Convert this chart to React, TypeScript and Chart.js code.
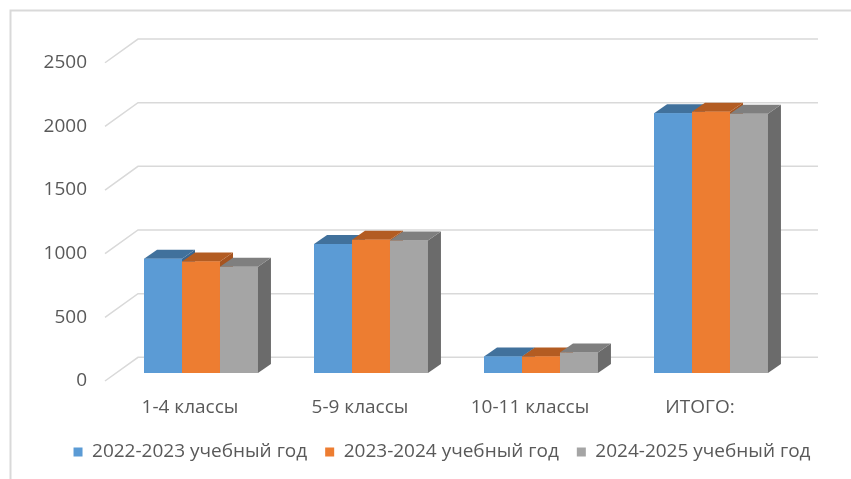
import React, { useEffect, useRef } from 'react';
import { Chart, registerables } from 'chart.js';

Chart.register(...registerables);

const categories = ['1-4 классы', '5-9 классы', '10-11 классы', 'ИТОГО:'];
const seriesNames = ['2022-2023 учебный год', '2023-2024 учебный год', '2024-2025 учебный год'];
const values2022 = [897, 1013, 130, 2040];
const values2023 = [876, 1047, 130, 2053];
const values2024 = [835, 1040, 162, 2037];
const yMin = 0;
const yMax = 2500;
const yStep = 500;

const frontColors = ['#5B9BD5', '#ED7D31', '#A5A5A5'];
const topColors = ['#41719C', '#B35C22', '#7F7F7F'];
const sideColors = ['#3A6690', '#A65420', '#6B6B6B'];

const DEPTH_DX = 13;
const DEPTH_DY = -9;
const FRONT_DX = -11;
const FRONT_DY = 8;
const BACK_DX = 22;
const BACK_DY = -15.7;
const TEXT = '#595959';
const FONT = 'Open Sans';

const threeD = {
  id: 'threeD',
  beforeDraw(chart: any) {
    const ctx = chart.ctx;
    ctx.save();
    ctx.strokeStyle = '#d9d9d9';
    ctx.lineWidth = 2;
    ctx.beginPath();
    ctx.moveTo(10.5, chart.height);
    ctx.lineTo(10.5, 10.5);
    ctx.lineTo(chart.width, 10.5);
    ctx.stroke();
    ctx.restore();
  },
  beforeDatasetsDraw(chart: any) {
    const { ctx, chartArea, scales } = chart;
    const y = scales.y;
    ctx.save();
    ctx.strokeStyle = '#d9d9d9';
    ctx.lineWidth = 1.5;
    y.ticks.forEach((t: any) => {
      const py = y.getPixelForValue(t.value);
      ctx.beginPath();
      ctx.moveTo(chartArea.left + FRONT_DX, py + FRONT_DY);
      ctx.lineTo(chartArea.left + BACK_DX, py + BACK_DY);
      ctx.lineTo(chartArea.right + BACK_DX, py + BACK_DY);
      ctx.stroke();
    });
    ctx.restore();
  },
  afterDatasetsDraw(chart: any) {
    const ctx = chart.ctx;
    ctx.save();
    chart.data.datasets.forEach((_ds: any, di: number) => {
      const meta = chart.getDatasetMeta(di);
      meta.data.forEach((bar: any) => {
        const { x, y, base, width } = bar.getProps(['x', 'y', 'base', 'width'], true);
        const l = x - width / 2;
        const r = x + width / 2;
        ctx.fillStyle = sideColors[di];
        ctx.beginPath();
        ctx.moveTo(r, base);
        ctx.lineTo(r + DEPTH_DX, base + DEPTH_DY);
        ctx.lineTo(r + DEPTH_DX, y + DEPTH_DY);
        ctx.lineTo(r, y);
        ctx.closePath();
        ctx.fill();
        ctx.fillStyle = topColors[di];
        ctx.beginPath();
        ctx.moveTo(l, y);
        ctx.lineTo(l + DEPTH_DX, y + DEPTH_DY);
        ctx.lineTo(r + DEPTH_DX, y + DEPTH_DY);
        ctx.lineTo(r, y);
        ctx.closePath();
        ctx.fill();
        bar.draw(ctx, chart.chartArea);
      });
    });
    ctx.restore();
  },
};

export default function App() {
  const ref = useRef<HTMLCanvasElement | null>(null);
  useEffect(() => {
    if (!ref.current) return;
    const series = [values2022, values2023, values2024];
    const chart = new Chart(ref.current, {
      type: 'bar',
      data: {
        labels: categories,
        datasets: series.map((vals, i) => ({
          label: seriesNames[i],
          data: vals,
          backgroundColor: frontColors[i],
          borderWidth: 0,
          barPercentage: 1,
          categoryPercentage: 0.67,
        })),
      },
      options: {
        animation: false,
        responsive: true,
        maintainAspectRatio: false,
        layout: { padding: { left: 43, right: 10, top: 54.75, bottom: 7.5 } },
        plugins: {
          tooltip: { enabled: false },
          legend: {
            position: 'bottom',
            labels: {
              boxWidth: 9,
              boxHeight: 9,
              padding: 18,
              color: TEXT,
              font: { family: FONT, size: 19 },
            },
          },
        },
        scales: {
          x: {
            grid: { display: false, drawTicks: false },
            border: { display: false },
            ticks: { padding: 23, labelOffset: -11, color: TEXT, font: { family: FONT, size: 19 } },
            afterFit(s: any) { s.height = 51.5; },
          },
          y: {
            min: yMin,
            max: yMax,
            grid: { display: false, drawTicks: false },
            border: { display: false },
            ticks: {
              stepSize: yStep,
              padding: 29,
              labelOffset: 8,
              color: TEXT,
              font: { family: FONT, size: 19 },
              callback: (v: any) => String(v),
            },
            afterFit(s: any) { s.width = 73; },
          },
          y2: {
            position: 'right',
            display: true,
            grid: { display: false, drawTicks: false },
            border: { display: false },
            ticks: { display: false },
            afterFit(s: any) { s.width = 45; },
          },
        },
      } as any,
      plugins: [threeD],
    });
    return () => chart.destroy();
  }, []);
  return (
    <div style={{ position: 'fixed', left: 0, top: 0, width: 851, height: 479, background: '#fff' }}>
      <canvas ref={ref} />
    </div>
  );
}
